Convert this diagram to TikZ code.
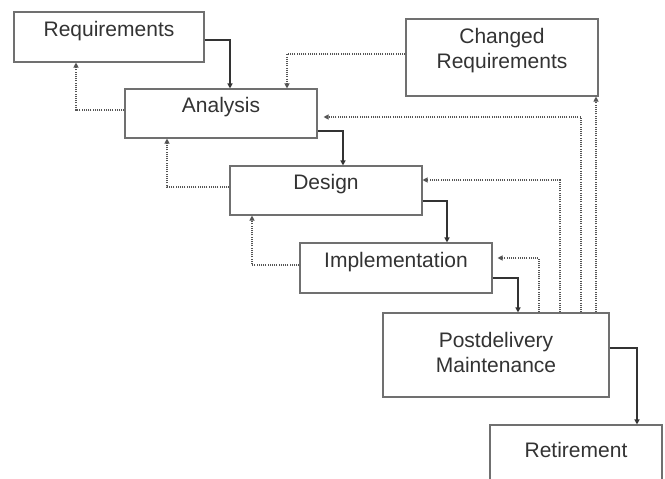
\documentclass[tikz,border=0pt]{standalone}
\usepackage{fontspec}
\setmainfont{Liberation Sans}
\usetikzlibrary{arrows.meta}
\definecolor{boxline}{HTML}{707070}
\definecolor{ink}{HTML}{333333}
\definecolor{fbline}{HTML}{555555}
\begin{document}
\begin{tikzpicture}[x=1pt,y=1pt,
  box/.style={draw=boxline, line width=1.1pt, fill=white, inner sep=0pt},
  txt/.style={text=ink, font=\fontsize{21}{25}\selectfont, align=center, inner sep=0pt},
  flow/.style={draw=ink, line width=1.4pt, -{Triangle[length=5pt,width=5pt]}},
  fb/.style={draw=fbline, line width=1.1pt, dash pattern=on 1.1pt off 1.1pt, -{Triangle[length=5pt,width=5pt]}}]
\useasboundingbox (0,0) rectangle (665,-479);
\clip (0,0) rectangle (665,-479);

% phase boxes
\node[box, minimum width=190, minimum height=50] (req)  at (109,-37)   {};
\node[box, minimum width=192, minimum height=49] (ana)  at (221,-113.5) {};
\node[box, minimum width=192, minimum height=49] (des)  at (326,-190.5) {};
\node[box, minimum width=192, minimum height=50] (imp)  at (396,-268)  {};
\node[box, minimum width=226, minimum height=84] (post) at (496,-355)  {};
\node[box, minimum width=172, minimum height=64] (ret)  at (576,-457)  {};
\node[box, minimum width=192, minimum height=77] (chg)  at (502,-57.5) {};

% box labels, set slightly above centre
\node[txt] (reqtxt)  at ([yshift=6]req.center)  {Requirements};
\node[txt] (anatxt)  at ([yshift=6]ana.center)  {Analysis};
\node[txt] (destxt)  at ([yshift=6]des.center)  {Design};
\node[txt] (imptxt)  at ([yshift=6]imp.center)  {Implementation};
\node[txt] (posttxt) at ([yshift=3]post.center) {Postdelivery\\Maintenance};
\node[txt] (rettxt)  at (576,-450)              {Retirement};
\node[txt] (chgtxt)  at ([yshift=7]chg.center)  {Changed\\Requirements};

% forward flow between phases
\draw[flow] ([yshift=-3]req.east)    -| ([xshift=9]ana.north);
\draw[flow] ([yshift=-17.5]ana.east) -| ([xshift=17]des.north);
\draw[flow] ([yshift=-10.5]des.east) -| ([xshift=51]imp.north);
\draw[flow] ([yshift=-10]imp.east)   -| ([xshift=22]post.north);
\draw[flow] ([yshift=7]post.east)    -| ([xshift=61]ret.north);

% feedback to the previous phase
\draw[fb] ([yshift=3.5]ana.west) -| ([xshift=-33]req.south);
\draw[fb] ([yshift=3.5]des.west) -| ([xshift=-54]ana.south);
\draw[fb] ([yshift=3]imp.west)   -| ([xshift=-74]des.south);
\draw[fb] ([yshift=3.5]chg.west) -| ([xshift=66]ana.north);

% feedback from maintenance
\draw[fb] ([xshift=43]post.north)  |- ([xshift=5,yshift=10]imp.east);
\draw[fb] ([xshift=64]post.north)  |- ([yshift=10.5]des.east);
\draw[fb] ([xshift=85]post.north)  |- ([xshift=6,yshift=-3.5]ana.east);
\draw[fb] ([xshift=100]post.north) -- ([xshift=94]chg.south);
\end{tikzpicture}
\end{document}
